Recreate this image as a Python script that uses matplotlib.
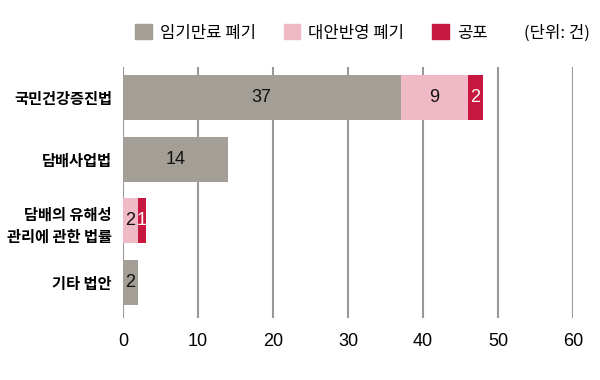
import numpy as np
import matplotlib.pyplot as plt
from matplotlib.patches import Patch

plt.rcParams['font.family'] = ['Noto Sans CJK KR', 'DejaVu Sans']

# 데이터
categories = ['국민건강증진법', '담배사업법', '담배의 유해성\n관리에 관한 법률', '기타 법안']
expired = [37, 14, 0, 2]     # 임기만료 폐기
replaced = [9, 0, 2, 0]      # 대안반영 폐기
passed = [2, 0, 1, 0]        # 공포
series_names = ['임기만료 폐기', '대안반영 폐기', '공포']
colors = ['#a39e96', '#f0b9c6', '#c8173f']
text_colors = ['#111111', '#111111', 'white']
num_font = ['Liberation Sans', 'DejaVu Sans']

fig = plt.figure(figsize=(6, 3.8), dpi=100)
ax = fig.add_axes([0.205, 0.163, 0.75, 0.661])

y = np.arange(len(categories))
left = np.zeros(len(categories))
for vals, col, tcol in zip([expired, replaced, passed], colors, text_colors):
    vals = np.array(vals, dtype=float)
    ax.barh(y, vals, left=left, height=0.73, color=col, zorder=2)
    for yi, v, l in zip(y, vals, left):
        if v > 0:
            ax.text(l + v / 2, yi, f'{int(v)}', ha='center', va='center',
                    color=tcol, fontsize=13, family=num_font, zorder=3)
    left += vals

ax.set_xlim(0, 60)
ax.set_ylim(3.58, -0.5)
ax.set_xticks(range(0, 61, 10))
ax.set_yticks(y)
ax.set_yticklabels(categories, fontweight='bold', fontsize=11, linespacing=1.5)
ax.tick_params(axis='y', length=0, pad=8)
ax.tick_params(axis='x', length=0, labelsize=13, pad=11)
for lbl in ax.get_xticklabels():
    lbl.set_family(num_font)
ax.grid(axis='x', color='#999999', linewidth=1.5, zorder=0)
for s in ax.spines.values():
    s.set_visible(False)

handles = [Patch(color=c) for c in colors]
fig.legend(handles, series_names, loc='center left', bbox_to_anchor=(0.2, 0.913),
           ncol=3, frameon=False, fontsize=12, handlelength=1.0, handleheight=1.0,
           columnspacing=1.65, handletextpad=0.5)
fig.text(0.873, 0.913, '(단위: 건)', ha='left', va='center', fontsize=12)

fig.savefig('out.png', dpi=100)
